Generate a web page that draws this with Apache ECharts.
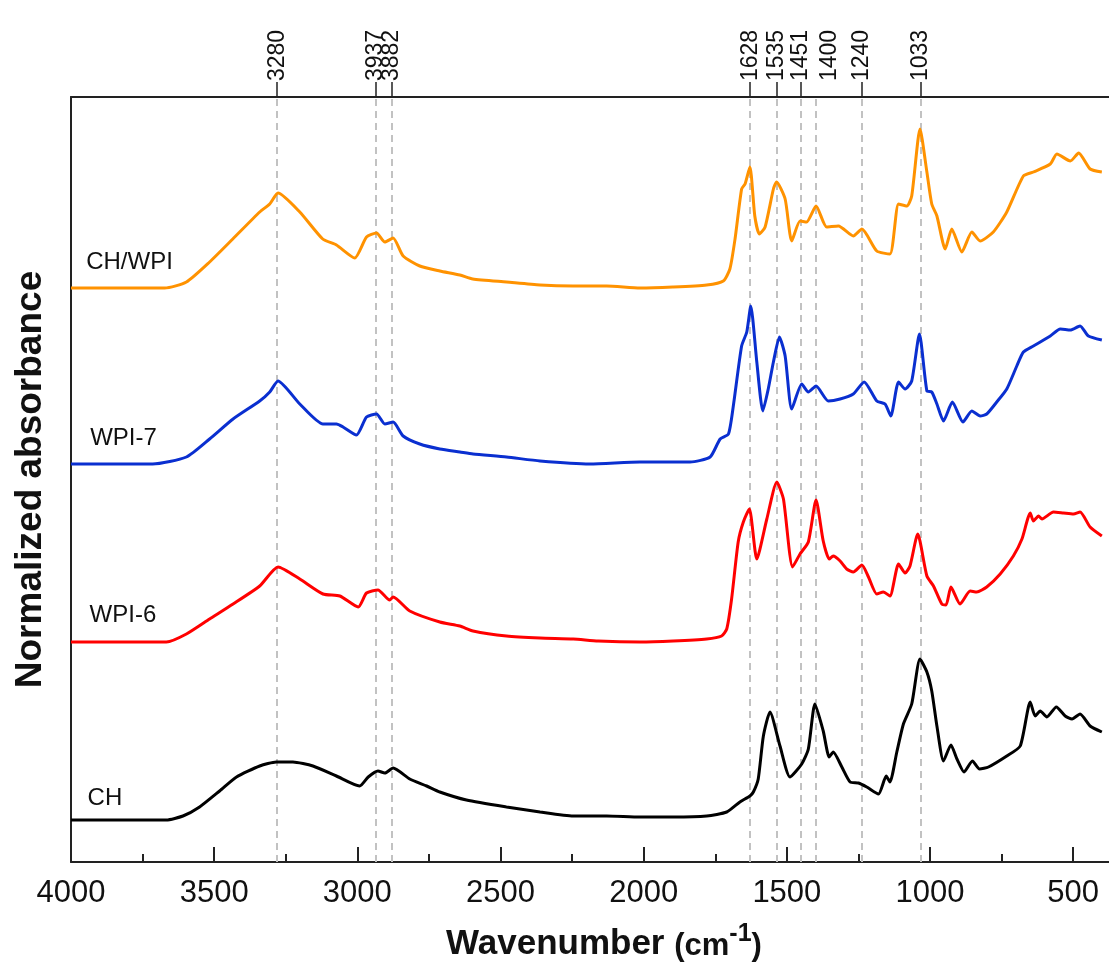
<!DOCTYPE html>
<html>
<head>
<meta charset="utf-8">
<script src="https://cdn.jsdelivr.net/npm/echarts@6/dist/echarts.min.js"></script>
<style>
html,body{margin:0;padding:0;background:#fff;}
#chart{width:1109px;height:969px;}
</style>
</head>
<body>
<div id="chart"></div>
<script>
// ---- data (wavenumber cm-1, normalized absorbance with vertical offsets) ----
const seriesNames = ['CH/WPI', 'WPI-7', 'WPI-6', 'CH'];
const seriesColors = ['#ff9200', '#0a2fd0', '#ff0000', '#000000'];

const chwpi = [[4000,5.74],[3673,5.74],[3597,5.80],[3516,6.00],[3435,6.23],[3341,6.50],[3306,6.58],[3277,6.69],[3201,6.50],[3121,6.23],[3073,6.17],[3009,6.04],[2968,6.25],[2933,6.29],[2904,6.20],[2875,6.24],[2840,6.06],[2782,5.96],[2712,5.91],[2642,5.87],[2597,5.83],[2479,5.80],[2362,5.77],[2247,5.76],[2129,5.76],[2013,5.74],[1898,5.75],[1780,5.77],[1722,5.81],[1699,5.93],[1681,6.23],[1658,6.73],[1646,6.78],[1629,6.95],[1612,6.46],[1596,6.28],[1576,6.35],[1547,6.73],[1536,6.80],[1506,6.63],[1483,6.21],[1454,6.41],[1431,6.40],[1398,6.56],[1361,6.35],[1320,6.36],[1268,6.26],[1238,6.33],[1186,6.11],[1140,6.08],[1110,6.58],[1081,6.56],[1064,6.66],[1035,7.33],[1011,6.90],[994,6.58],[976,6.46],[947,6.13],[924,6.33],[889,6.10],[854,6.30],[825,6.21],[779,6.30],[732,6.50],[674,6.86],[639,6.90],[580,6.98],[557,7.08],[510,7.01],[481,7.09],[441,6.93],[400,6.90]];

const wpi7 = [[4000,3.98],[3715,3.98],[3597,4.05],[3516,4.23],[3434,4.43],[3341,4.61],[3306,4.70],[3277,4.81],[3201,4.58],[3120,4.38],[3073,4.38],[3050,4.35],[3003,4.27],[2968,4.45],[2933,4.48],[2904,4.38],[2875,4.40],[2840,4.26],[2782,4.18],[2712,4.13],[2642,4.10],[2596,4.08],[2479,4.05],[2362,4.01],[2188,3.98],[2013,4.00],[1838,4.00],[1768,4.05],[1733,4.23],[1704,4.28],[1687,4.56],[1658,5.16],[1640,5.30],[1626,5.56],[1605,5.00],[1584,4.51],[1565,4.73],[1547,5.00],[1526,5.25],[1506,5.06],[1483,4.53],[1448,4.78],[1425,4.70],[1398,4.76],[1355,4.61],[1314,4.63],[1268,4.68],[1230,4.80],[1186,4.61],[1157,4.58],[1137,4.46],[1110,4.80],[1087,4.73],[1064,4.81],[1037,5.28],[1011,4.71],[994,4.70],[976,4.58],[953,4.41],[922,4.60],[885,4.40],[854,4.51],[825,4.46],[802,4.48],[767,4.60],[732,4.73],[697,4.96],[674,5.10],[639,5.16],[580,5.26],[545,5.33],[510,5.32],[476,5.36],[447,5.26],[400,5.22]];

const wpi6 = [[4000,2.20],[3667,2.20],[3597,2.28],[3516,2.43],[3434,2.58],[3341,2.76],[3277,2.95],[3201,2.83],[3120,2.68],[3061,2.66],[2997,2.55],[2968,2.69],[2928,2.72],[2887,2.62],[2875,2.65],[2817,2.51],[2712,2.40],[2642,2.36],[2596,2.31],[2479,2.26],[2362,2.24],[2246,2.23],[2159,2.21],[2013,2.20],[1897,2.21],[1780,2.23],[1728,2.26],[1710,2.33],[1693,2.63],[1670,3.20],[1652,3.40],[1631,3.53],[1605,3.03],[1570,3.43],[1535,3.80],[1512,3.63],[1480,2.95],[1454,3.08],[1425,3.20],[1398,3.62],[1373,3.21],[1352,3.03],[1338,3.06],[1314,3.01],[1291,2.93],[1268,2.90],[1238,2.97],[1215,2.85],[1186,2.68],[1163,2.70],[1140,2.66],[1110,2.98],[1087,2.89],[1070,2.96],[1043,3.28],[1011,2.86],[988,2.76],[959,2.58],[944,2.57],[927,2.75],[895,2.58],[860,2.71],[837,2.70],[802,2.75],[755,2.88],[709,3.06],[679,3.23],[650,3.49],[639,3.41],[621,3.46],[609,3.43],[569,3.50],[534,3.49],[499,3.48],[476,3.50],[441,3.35],[400,3.26]];

const ch = [[4000,0.42],[3667,0.42],[3609,0.46],[3551,0.55],[3481,0.71],[3422,0.85],[3341,0.96],[3283,1.00],[3225,1.00],[3155,0.96],[3073,0.86],[2992,0.76],[2962,0.85],[2928,0.91],[2904,0.89],[2875,0.94],[2817,0.83],[2758,0.76],[2712,0.70],[2619,0.62],[2479,0.55],[2362,0.50],[2246,0.46],[2129,0.46],[2013,0.45],[1897,0.45],[1780,0.46],[1710,0.50],[1664,0.60],[1629,0.66],[1617,0.70],[1600,0.83],[1582,1.26],[1559,1.50],[1524,1.16],[1489,0.85],[1448,0.98],[1425,1.13],[1402,1.58],[1373,1.31],[1352,1.05],[1338,1.10],[1308,0.95],[1279,0.80],[1250,0.79],[1221,0.75],[1180,0.68],[1153,0.86],[1140,0.80],[1116,1.10],[1093,1.38],[1064,1.58],[1035,2.03],[1011,1.90],[994,1.71],[976,1.36],[953,1.01],[927,1.17],[906,1.03],[881,0.90],[852,1.01],[827,0.93],[796,0.95],[732,1.06],[685,1.16],[650,1.60],[633,1.46],[615,1.51],[592,1.45],[559,1.55],[528,1.46],[504,1.43],[476,1.48],[441,1.36],[400,1.30]];

const seriesData = [chwpi, wpi7, wpi6, ch];
// where each curve's name label starts (wavenumber, absorbance)
const labelAnchors = [[3947,6.00],[3933,4.24],[3935,2.47],[3942,0.64]];

// peak marker lines and their labels (as printed in the figure)
const peakPositions = [3280, 2937, 2880, 1628, 1535, 1451, 1400, 1240, 1033];
const peakTickPositions = [3280, 2937, 2880, 1628, 1535, 1451, 1240, 1033];
const peakLabelPositions = [3280, 2937, 2880, 1628, 1535, 1451, 1352, 1240, 1033];
const peakLabelTexts = ['3280', '3937', '3882', '1628', '1535', '1451', '1400', '1240', '1033'];

// x axis: range, labelled major ticks and unlabelled minor ticks
const xMin = 375, xMax = 4000;
const xTickLabels = [500, 1000, 1500, 2000, 2500, 3000, 3500, 4000];
const xMinorTicks = [750, 1250, 1750, 2250, 2750, 3250, 3750];

// ---- chart ----
const FONT = '"Liberation Sans", Arial, Helvetica, sans-serif';
const chart = echarts.init(document.getElementById('chart'), null, {renderer: 'canvas'});
const axisLineStyle = {color: '#222', width: 2};

const series = seriesData.map((d, i) => ({
  name: seriesNames[i],
  type: 'line',
  data: d,
  xAxisIndex: 0,
  yAxisIndex: 0,
  showSymbol: false,
  symbol: 'none',
  smooth: 0.2,
  clip: false,
  z: 3,
  lineStyle: {color: seriesColors[i], width: 3},
  markPoint: {
    silent: true,
    symbol: 'circle',
    symbolSize: 0,
    label: {show: true, position: 'right', distance: 0, formatter: '{b}', fontSize: 24, color: '#111', fontFamily: FONT},
    data: [{name: seriesNames[i], coord: labelAnchors[i]}]
  }
}));

series[3].markLine = {
  silent: true,
  z: 1,
  symbol: ['none', 'none'],
  label: {show: false},
  lineStyle: {color: '#c2c2c2', width: 2, type: [7, 5]},
  data: peakPositions.map(p => ({xAxis: p})).concat([
    [{coord: [1368, 7.80], lineStyle: {color: '#222', width: 1.5, type: 'solid'}}, {coord: [1400, 7.65]}]
  ])
};

const option = {
  animation: false,
  backgroundColor: '#ffffff',
  grid: {left: 71, top: 97, right: 0, bottom: 107},
  title: {
    text: '{a|Wavenumber }{b|(cm}{c|-1}{b|)}',
    left: 446,
    top: 922,
    padding: 0,
    textStyle: {
      rich: {
        a: {fontSize: 35, fontWeight: 'bold', fontFamily: FONT, color: '#111', lineHeight: 40, verticalAlign: 'bottom'},
        b: {fontSize: 31, fontWeight: 'bold', fontFamily: FONT, color: '#111', lineHeight: 40, verticalAlign: 'bottom'},
        c: {fontSize: 25, fontWeight: 'bold', fontFamily: FONT, color: '#111', lineHeight: 25, verticalAlign: 'top'}
      }
    }
  },
  xAxis: [
    {
      type: 'value', position: 'bottom', inverse: true, min: xMin, max: xMax,
      axisLine: {show: true, onZero: false, lineStyle: axisLineStyle},
      axisTick: {show: true, inside: true, length: 15, customValues: xTickLabels, lineStyle: axisLineStyle},
      minorTick: {show: false},
      splitLine: {show: false}, minorSplitLine: {show: false},
      axisLabel: {
        customValues: xTickLabels,
        fontSize: 31, color: '#111', fontFamily: FONT, margin: 16,
        formatter: v => String(v)
      }
    },
    {
      type: 'value', position: 'top', inverse: true, min: xMin, max: xMax,
      axisLine: {show: true, onZero: false, lineStyle: axisLineStyle},
      axisTick: {show: true, inside: false, length: 15, customValues: peakTickPositions, lineStyle: {color: '#222', width: 1.5}},
      splitLine: {show: false},
      axisLabel: {
        show: true, customValues: peakLabelPositions, rotate: -90, margin: 16,
        fontSize: 23, color: '#111', fontFamily: FONT,
        formatter: v => peakLabelTexts[peakLabelPositions.indexOf(v)]
      }
    },
    {
      type: 'value', position: 'bottom', inverse: true, min: xMin, max: xMax,
      axisLine: {show: false},
      axisTick: {show: true, inside: true, length: 8, customValues: xMinorTicks, lineStyle: axisLineStyle},
      axisLabel: {show: false},
      splitLine: {show: false}
    }
  ],
  yAxis: {
    type: 'value', min: 0, max: 7.65,
    axisLine: {show: true, onZero: false, lineStyle: axisLineStyle},
    axisTick: {show: false}, axisLabel: {show: false}, splitLine: {show: false},
    name: 'Normalized absorbance', nameLocation: 'middle', nameRotate: 90, nameGap: 22,
    nameTextStyle: {fontSize: 37, fontWeight: 'bold', color: '#111', fontFamily: FONT}
  },
  series: series
};
chart.setOption(option);
</script>
</body>
</html>
